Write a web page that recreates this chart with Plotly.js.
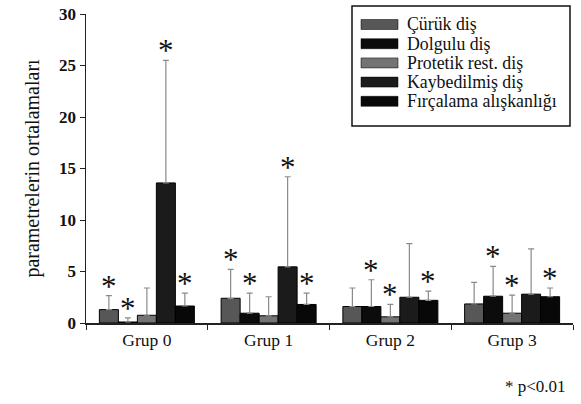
<!DOCTYPE html>
<html><head><meta charset="utf-8">
<script src="https://cdn.plot.ly/plotly-3.0.1.min.js"></script>
<style>body{margin:0;background:#fff}#chart{width:581px;height:404px}</style>
</head><body><div id="chart"></div>
<script>
var groups = ["Grup 0", "Grup 1", "Grup 2", "Grup 3"];
var seriesNames = ["Çürük diş", "Dolgulu diş", "Protetik rest. diş", "Kaybedilmiş diş", "Fırçalama alışkanlığı"];
var seriesColors = ["#575757", "#0c0c0c", "#747474", "#1b1b1b", "#080808"];
var curuk = [1.3, 2.4, 1.6, 1.85];
var dolgulu = [0.1, 0.95, 1.6, 2.6];
var protetik = [0.75, 0.7, 0.6, 0.95];
var kaybedilmis = [13.6, 5.45, 2.5, 2.8];
var fircalama = [1.65, 1.8, 2.2, 2.55];
var curukErr = [1.35, 2.8, 1.8, 2.1];
var dolguluErr = [0.4, 1.95, 2.6, 2.9];
var protetikErr = [2.65, 1.85, 1.2, 1.75];
var kaybedilmisErr = [11.9, 8.75, 5.2, 4.4];
var fircalamaErr = [1.25, 1.1, 0.9, 0.85];
var curukSig = [true, true, false, false];
var dolguluSig = [true, true, true, true];
var protetikSig = [false, false, true, true];
var kaybedilmisSig = [true, true, false, false];
var fircalamaSig = [true, true, true, true];
var yTickVals = [0, 5, 10, 15, 20, 25, 30];
var footnote = "* p<0.01";
var yTitle = "parametrelerin ortalamaları";

var values = [curuk, dolgulu, protetik, kaybedilmis, fircalama];
var errs = [curukErr, dolguluErr, protetikErr, kaybedilmisErr, fircalamaErr];
var sigs = [curukSig, dolguluSig, protetikSig, kaybedilmisSig, fircalamaSig];

var bargap = 0.22;
var nS = seriesNames.length;
var serif = "Liberation Serif, Times New Roman, serif";

var traces = seriesNames.map(function(n, j){
  return {
    type: "bar", name: n, x: groups, y: values[j],
    marker: {color: seriesColors[j], line: {color: "#000", width: 1}},
    error_y: {type: "data", array: errs[j], symmetric: false, arrayminus: values[j].map(function(){return 0;}),
      color: "#8a8a8a", thickness: 1.2, width: 3},
    showlegend: false
  };
});

var annotations = [];
var shapes = [];
var w = (1 - bargap) / nS;
sigs.forEach(function(sig, j){
  sig.forEach(function(s, i){
    if (!s) return;
    annotations.push({
      xref: "x", yref: "y", x: i + (j - (nS - 1) / 2) * w, y: values[j][i] + errs[j][i],
      text: "*", showarrow: false, yanchor: "bottom", yshift: -10,
      font: {family: serif, size: 31, color: "#111"}
    });
  });
});

// custom legend: paper coords relative to plot area
var mL = 86, mR = 8, mT = 14, mB = 81, W = 581, H = 404;
var pw = W - mL - mR, ph = H - mT - mB;
function px(x){return (x - mL) / pw;}
function py(y){return 1 - (y - mT) / ph;}
var lx0 = 352, ly0 = 6, lx1 = 570, ly1 = 126;
shapes.push({type: "rect", xref: "paper", yref: "paper", x0: px(lx0), x1: px(lx1), y0: py(ly1), y1: py(ly0),
  line: {color: "#111", width: 1.5}, fillcolor: "#fff"});
seriesNames.forEach(function(n, j){
  var cy = 24.5 + j * 19.2;
  shapes.push({type: "rect", xref: "paper", yref: "paper", x0: px(361), x1: px(398), y0: py(cy + 5), y1: py(cy - 5),
    line: {color: "#000", width: 0.5}, fillcolor: seriesColors[j]});
  annotations.push({xref: "paper", yref: "paper", x: px(405), y: py(cy), xanchor: "left", yanchor: "middle",
    text: n, showarrow: false, font: {family: serif, size: 17.8, color: "#111"}});
});
annotations.push({xref: "paper", yref: "paper", x: px(568), y: py(386), xanchor: "right", yanchor: "middle",
  text: footnote, showarrow: false, font: {family: serif, size: 17, color: "#111"}});

var layout = {
  width: 581, height: 404,
  margin: {l: mL, r: mR, t: mT, b: mB},
  paper_bgcolor: "#fff", plot_bgcolor: "rgba(0,0,0,0)",
  barmode: "group", bargap: bargap, bargroupgap: 0,
  showlegend: false,
  font: {family: serif, color: "#111"},
  xaxis: {type: "category", showline: true, linecolor: "#222", linewidth: 1.5, ticks: "outside", tickson: "boundaries",
    ticklen: 5, tickcolor: "#222", showgrid: false, zeroline: false,
    tickfont: {family: serif, size: 17.5, color: "#111"}},
  yaxis: {range: [0, 30], tickmode: "array", tickvals: yTickVals,
    ticktext: yTickVals.map(function(v){return "<b>" + v + "</b>";}),
    showline: true, linecolor: "#222", linewidth: 1.5, ticks: "outside", ticklen: 5,
    tickcolor: "#222", showgrid: false, zeroline: false,
    tickfont: {family: serif, size: 17, color: "#111"},
    title: {text: yTitle, font: {family: serif, size: 20, color: "#111"}, standoff: 14}},
  shapes: shapes, annotations: annotations
};
Plotly.newPlot("chart", traces, layout, {displayModeBar: false, staticPlot: true});
</script></body></html>
